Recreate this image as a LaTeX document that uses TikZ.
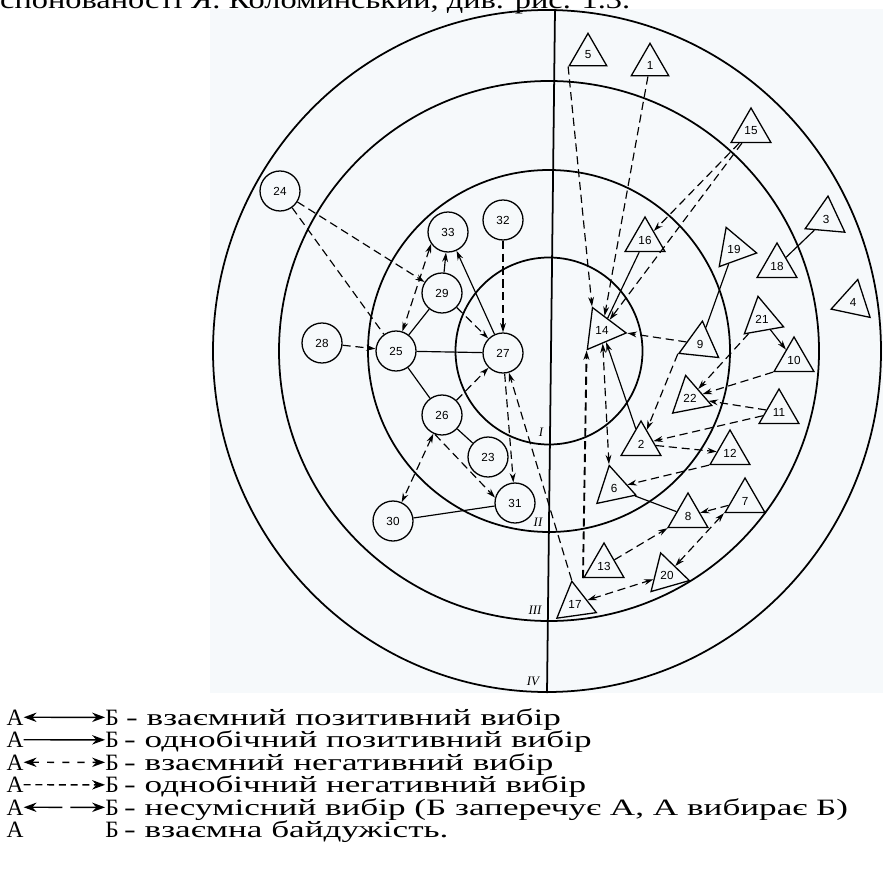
\documentclass[tikz,border=0pt]{standalone}
\usepackage{fontspec}
\setmainfont{Liberation Serif}
\setsansfont{Liberation Sans}
\usepackage{tikz}
\usetikzlibrary{arrows.meta,shapes.geometric}
\definecolor{paper}{HTML}{F6F9FB}
\newcommand{\wide}[1]{\scalebox{1.5}[1]{#1}}

\begin{document}
\begin{tikzpicture}[x=0.3mm,y=-0.3mm,
  ring/.style={line width=1.5pt},
  girl/.style={circle,draw,line width=1.1pt,minimum size=12mm,inner sep=0pt,font=\sffamily\fontsize{10}{12}\selectfont},
  boy/.style={regular polygon,regular polygon sides=3,draw,line width=1.1pt,minimum size=13.8mm,inner sep=0pt,font=\sffamily\fontsize{10}{12}\selectfont},
  pick/.style={line width=1pt},
  reject/.style={line width=1pt,dash pattern=on 7pt off 4pt},
  >={Stealth[length=8pt,width=5pt]},
  zone/.style={font=\itshape\fontsize{11}{13}\selectfont,inner sep=1pt},
  key/.style={font=\fontsize{20}{22}\selectfont,inner sep=0pt},
  keyline/.style={line width=1.2pt,>={Stealth[length=11pt,width=8pt]}}
]
\useasboundingbox (0,0) rectangle (883,889);
\clip (0,0) rectangle (883,889);
\fill[paper] (210,9) rectangle (883,693);

% cut line of the page text above
\node[anchor=base west,inner sep=0pt,font=\fontsize{22}{24}\selectfont] (head) at (0,8.5)
  {\resizebox{189mm}{\height}{спонованості Я. Коломинський, див. рис. 1.3.}};

% zones
\coordinate (hub) at (549,351);
\draw[ring] (hub) circle[radius=93.5];
\draw[ring] (hub) circle[radius=181];
\draw[ring] (hub) circle[radius=270];
\draw[ring] (547,351) ellipse[x radius=334,y radius=341];
\coordinate (top) at (555,9);
\coordinate (foot) at (547,693);
\draw[ring] (top) -- (foot);
\node[zone] (zI) at (541,432) {I};
\node[zone] (zII) at (538,522) {II};
\node[zone] (zIII) at (535,610) {III};
\node[zone] (zIV) at (533,681) {IV};

% girls
\node[girl] (g24) at (280,191) {24};
\node[girl] (g33) at (448,232) {33};
\node[girl] (g32) at (503,220) {32};
\node[girl] (g29) at (442,293) {29};
\node[girl] (g28) at (322,343) {28};
\node[girl] (g25) at (396,351) {25};
\node[girl] (g27) at (503,353) {27};
\node[girl] (g26) at (442,415) {26};
\node[girl] (g23) at (488,457) {23};
\node[girl] (g31) at (515,503) {31};
\node[girl] (g30) at (393,521) {30};

% boys
\node[boy,minimum size=13mm] (b5) at (588,55) {5};
\node[boy,minimum size=13mm] (b1) at (650,65) {1};
\node[boy] (b15) at (751,131) {15};
\node[boy] (b16) at (645,240) {16};
\node[boy,shape border rotate=-5] (b3) at (826,219) {3};
\node[boy] (b18) at (777,266) {18};
\node[boy,shape border rotate=-100] (b19) at (734,249) {19};
\node[boy,shape border rotate=-12] (b4) at (853,302) {4};
\node[boy,shape border rotate=-97,minimum size=14.6mm] (b14) at (602,330) {14};
\node[boy,shape border rotate=-6] (b9) at (700,344) {9};
\node[boy,shape border rotate=10] (b21) at (762,319) {21};
\node[boy] (b10) at (794,360) {10};
\node[boy,shape border rotate=11] (b22) at (690,398) {22};
\node[boy] (b11) at (779,412) {11};
\node[boy] (b2) at (641,444) {2};
\node[boy] (b12) at (730,453) {12};
\node[boy,shape border rotate=12] (b6) at (614,488) {6};
\node[boy] (b8) at (688,516) {8};
\node[boy] (b7) at (745,501) {7};
\node[boy] (b13) at (604,566) {13};
\node[boy,shape border rotate=16] (b20) at (667,575) {20};
\node[boy,shape border rotate=8] (b17) at (575,604) {17};

% choices among girls
\draw[reject,->] (g24) -- (g29);
\draw[reject] (g24) -- (g25);
\draw[reject,->] (g28) -- (g25);
\draw[reject,<->] (g33.215) -- (g25);
\draw[pick,->] (g29) -- (g33);
\draw[pick,->] (g27) -- (g33);
\draw[reject,->] (g29) -- (g27);
\draw[reject,->] (g32) -- (g27);
\draw[pick] (g25) -- (g27);
\draw[pick] (g25) -- (g29);
\draw[pick] (g25) -- (g26);
\draw[reject,->] (g26) -- (g27);
\draw[pick] (g26) -- (g23);
\draw[reject,->] (g26.250) -- (g31.165);
\draw[reject,<->] (g26) -- (g30);
\draw[pick] (g30) -- (g31);
\draw[reject,->] (g27) -- (g31);
\draw[reject,->] (b17.corner 1) -- (g27);

% choices among boys
\draw[reject,->] (b5.corner 2) -- (b14.corner 2);
\draw[reject,->] (b1) -- (b14);
\draw[reject,->] (b15) -- (b16);
\draw[reject,->] (b15) -- (b14);
\draw[pick] (b16) -- (b14);
\draw[reject,->] (b9) -- (b14.corner 1);
\draw[pick] (b19) -- (b9);
\draw[reject,->] (b9.corner 2) -- (b2);
\draw[pick,->] (b2) -- (b14);
\draw[reject,<->] (b14) -- (b6.corner 1);
\draw[reject,->,line width=1.6pt] (b13.corner 2) -- (b14.corner 3);
\draw[pick] (b6) -- (b8);
\draw[reject,->] (b12.corner 2) -- (b6);
\draw[reject,->] (b2) -- (b12);
\draw[reject,->] (b11) -- (b2);
\draw[reject,->] (b11) -- (b22);
\draw[reject,->] (b10.corner 2) -- (b22);
\draw[pick,->] (b21) -- (b10);
\draw[reject,->] (b21) -- (b22);
\draw[pick] (b18) -- (b3);
\draw[reject,->] (b7) -- (b8);
\draw[reject,<->] (b7.corner 2) -- (b20);
\draw[reject,->] (b13) -- (b8);
\draw[reject,<->] (b17) -- (b20);

% legend
\node[key,anchor=base] (la1) at (15,725) {А};
\node[key,anchor=base] (lb1) at (112,725) {Б};
\node[key,anchor=base west] (lt1) at (126,725) {\wide{- взаємний позитивний вибір}};
\node[key,anchor=base] (la2) at (15,747.5) {А};
\node[key,anchor=base] (lb2) at (112,747.5) {Б};
\node[key,anchor=base west] (lt2) at (124,747.5) {\wide{- однобічний позитивний вибір}};
\node[key,anchor=base] (la3) at (15,770) {А};
\node[key,anchor=base] (lb3) at (112,770) {Б};
\node[key,anchor=base west] (lt3) at (124,770) {\wide{- взаємний негативний вибір}};
\node[key,anchor=base] (la4) at (15,792.5) {А};
\node[key,anchor=base] (lb4) at (112,792.5) {Б};
\node[key,anchor=base west] (lt4) at (124,792.5) {\wide{- однобічний негативний вибір}};
\node[key,anchor=base] (la5) at (15,815) {А};
\node[key,anchor=base] (lb5) at (112,815) {Б};
\node[key,anchor=base west] (lt5) at (124,815) {\wide{- несумісний вибір (Б заперечує А, А вибирає Б)}};
\node[key,anchor=base] (la6) at (15,837.5) {А};
\node[key,anchor=base] (lb6) at (112,837.5) {Б};
\node[key,anchor=base west] (lt6) at (124,837.5) {\wide{- взаємна байдужість.}};
\draw[keyline,<->] (la1) -- (lb1);
\draw[keyline,->] (la2) -- (lb2);
\draw[keyline,<->,dash pattern=on 6pt off 7pt] (la3) -- (lb3);
\draw[keyline,->,dash pattern=on 6pt off 4pt] (la4) -- (lb4);
\draw[keyline,<->,dash pattern=on 26pt off 7pt on 80pt] (la5) -- (lb5);
\end{tikzpicture}
\end{document}
